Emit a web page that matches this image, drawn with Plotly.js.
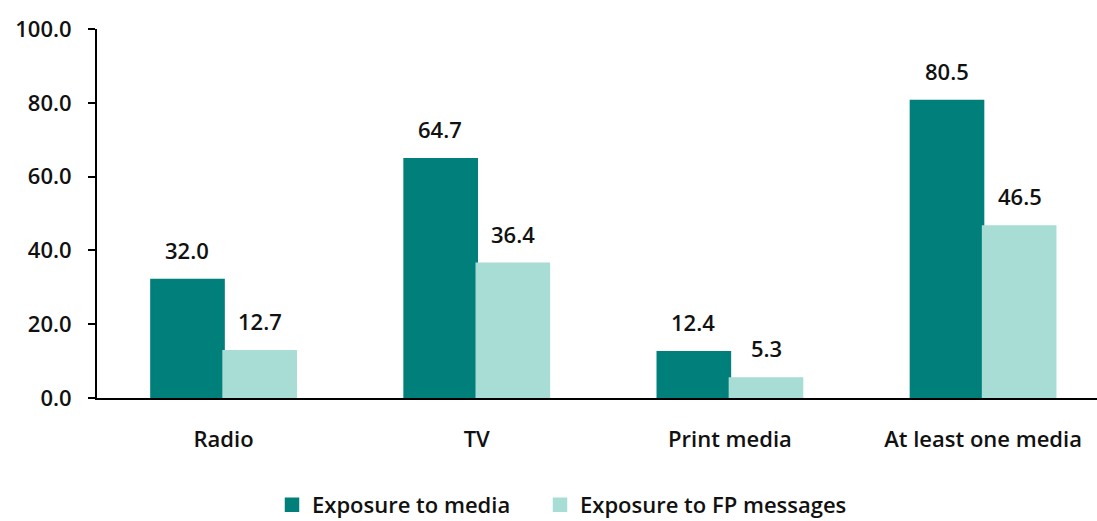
<!DOCTYPE html>
<html><head><meta charset="utf-8">
<script src="https://cdn.plot.ly/plotly-3.0.1.min.js"></script>
<style>body{margin:0;background:#fff}#c{width:1097px;height:521px}</style>
</head><body><div id="c"></div>
<script>
const categories = ["Radio", "TV", "Print media", "At least one media"];
const media = [32.0, 64.7, 12.4, 80.5];
const fp = [12.7, 36.4, 5.3, 46.5];
const seriesNames = ["Exposure to media", "Exposure to FP messages"];
const yTicks = [0, 20, 40, 60, 80, 100];
const yTickText = ["0.0", "20.0", "40.0", "60.0", "80.0", "100.0"];

const FONT = "Open Sans, sans-serif";
const SIZE = 22;
const dark = "#007f7b", light = "#a8ddd5";
const f = {family: FONT, size: SIZE, color: "#111", weight: 600};

const traces = [
  {type: "bar", name: seriesNames[0], x: categories, y: media, legend: "legend",
   marker: {color: dark, line: {color: dark, width: 2.5}}, hoverinfo: "none"},
  {type: "bar", name: seriesNames[1], x: categories, y: fp, legend: "legend2",
   marker: {color: light, line: {color: light, width: 2.5}}, hoverinfo: "none"}
];

const annotations = [];
categories.forEach((c, i) => {
  annotations.push({x: c, y: media[i], xref: "x", yref: "y", text: media[i].toFixed(1), showarrow: false,
    xshift: -36.5, yshift: 30, font: f});
  annotations.push({x: c, y: fp[i], xref: "x", yref: "y", text: fp[i].toFixed(1), showarrow: false,
    xshift: 36.5, yshift: 30, font: f});
});

const legBase = {orientation: "h", xanchor: "left", y: -0.29, yanchor: "middle", font: f, itemwidth: 30};

const layout = {
  width: 1097, height: 521,
  margin: {l: 97, r: 0, t: 29, b: 123, autoexpand: false},
  paper_bgcolor: "#fff", plot_bgcolor: "#fff",
  barmode: "group", bargap: 0.43, bargroupgap: 0,
  font: f,
  showlegend: true,
  legend: Object.assign({}, legBase, {x: 0.175}),
  legend2: Object.assign({}, legBase, {x: 0.443}),
  xaxis: {range: [-0.5, 3.45], showline: true, linecolor: "#000", linewidth: 2, ticks: "", showgrid: false,
    zeroline: false, tickfont: f, ticklabelstandoff: 21, fixedrange: true, automargin: false},
  yaxis: {range: [0, 100], tickvals: yTicks, ticktext: yTickText, showline: true, linecolor: "#000", linewidth: 2,
    ticks: "outside", ticklen: 7, tickwidth: 2, tickcolor: "#000", showgrid: false, zeroline: false,
    tickfont: f, ticklabelstandoff: 12, fixedrange: true, automargin: false},
  annotations: annotations
};
Plotly.newPlot("c", traces, layout, {displayModeBar: false, staticPlot: true});
</script></body></html>
